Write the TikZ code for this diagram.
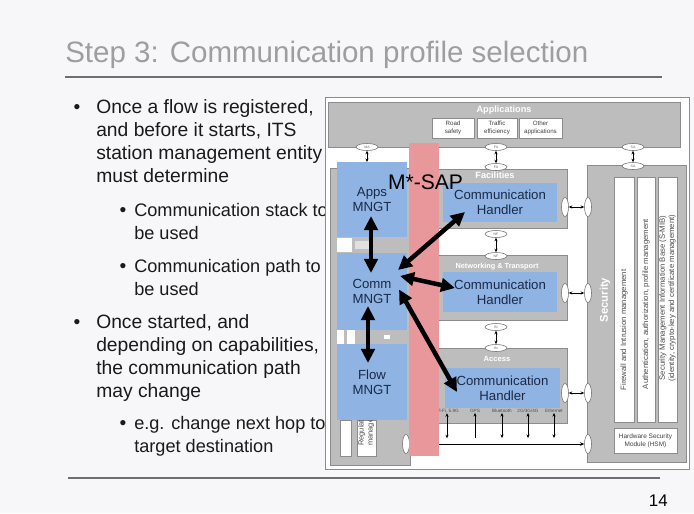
\documentclass[tikz,border=0pt]{standalone}
\usepackage{fontspec}
\setmainfont{Liberation Sans}
\usepackage{tikz}
\usetikzlibrary{arrows.meta, shapes.geometric, calc}
\newcommand{\pxu}{0.025cm}
\definecolor{slidebg}{HTML}{F7F7F9}
\definecolor{titlegray}{HTML}{9E9E9E}
\definecolor{rulegray}{HTML}{6E6E6E}
\definecolor{bodytext}{HTML}{1A1A1A}
\definecolor{laygray}{HTML}{BDBDBD}
\definecolor{laydraw}{HTML}{8C8C8C}
\definecolor{mngtblue}{HTML}{8FB3E2}
\definecolor{mngttext}{HTML}{1B2A47}
\definecolor{sappink}{HTML}{E8979B}

\begin{document}
\begin{tikzpicture}[x=\pxu, y=-\pxu,
  sz/.style 2 args={minimum width=#1*\pxu, minimum height=#2*\pxu},
  laybox/.style={rectangle, draw=laydraw, fill=laygray, inner sep=0pt, outer sep=0pt},
  laytitle/.style={text=white, font=\bfseries\fontsize{6.5}{7.5}\selectfont, inner sep=0pt},
  appbox/.style={rectangle, draw=laydraw, fill=white, inner sep=0pt, align=center, font=\fontsize{4.4}{5.4}\selectfont, text=black!75},
  sap/.style={ellipse, draw=black!55, fill=white, inner sep=0pt, minimum width=22*\pxu, minimum height=7*\pxu, font=\fontsize{2.5}{3}\selectfont, text=black!60},
  vsap/.style={sap, minimum width=7*\pxu, minimum height=19*\pxu},
  mngt/.style={rectangle, fill=mngtblue, inner sep=0pt, outer sep=0pt, align=center, text=mngttext, font=\fontsize{9.4}{10.6}\selectfont},
  stripbox/.style={rectangle, draw=laydraw, fill=white, inner sep=0pt},
  striptext/.style={rotate=90, align=center, inner sep=0pt, font=\fontsize{5.5}{6.6}\selectfont, text=black!70},
  bigarrow/.style={{Triangle[length=10pt,width=9.5pt]}-{Triangle[length=10pt,width=9.5pt]}, line width=3.2pt},
  sarrow/.style={{Stealth[length=2.5pt,width=2.2pt]}-{Stealth[length=2.5pt,width=2.2pt]}, line width=0.5pt},
  bulletmark/.style={anchor=base, inner sep=0pt, text=bodytext, font=\fontsize{13.7}{16.3}\selectfont},
  body/.style={anchor=north west, inner sep=0pt, align=left, text=bodytext, font=\fontsize{13.7}{16.3}\selectfont},
  subbody/.style={body, font=\fontsize{12.9}{16.3}\selectfont}
]

% ===== Slide =====
\fill[slidebg] (0,0) rectangle (694,513);
\useasboundingbox (0,0) rectangle (694,513);

\node[anchor=base west, inner sep=0pt, text=titlegray, font=\fontsize{21}{25}\selectfont] (title) at (65,62) {Step 3: Communication profile selection};
\draw[rulegray, line width=1.3pt] (65,77) -- (662,77);
\draw[rulegray, line width=1.3pt] (68,478) -- (660,478);
\node[anchor=base east, inner sep=0pt, font=\fontsize{12}{14}\selectfont] (pageno) at (668,506) {14};

% ===== Bullets =====
\node[bulletmark] (bu1) at (77,113) {\textbullet};
\node[body] (txt1) at (96,99) {Once a flow is registered,\\and before it starts, ITS\\station management entity\\must determine};
\node[bulletmark] (bu2) at (123,216) {\textbullet};
\node[subbody] (txt2) at (134,203) {Communication stack to\\be used};
\node[bulletmark] (bu3) at (123,272) {\textbullet};
\node[subbody] (txt3) at (134,259) {Communication path to\\be used};
\node[bulletmark] (bu4) at (77,328) {\textbullet};
\node[body] (txt4) at (96,314) {Once started, and\\depending on capabilities,\\the communication path\\may change};
\node[bulletmark] (bu5) at (123,429) {\textbullet};
\node[subbody] (txt5) at (134,416) {e.g. change next hop to\\target destination};

% ===== Architecture figure =====
\node[rectangle, draw=black!45, line width=0.4pt, fill=white, sz={364}{372}, inner sep=0pt] (frame) at (507,283) {};

% applications layer
\node[laybox, sz={352}{45}] (applay) at (504,124.5) {};
\node[laytitle] (applayt) at (504,110) {Applications};
\node[appbox, sz={42}{20}] (road) at (453,128) {Road\\safety};
\node[appbox, sz={40}{20}] (traffic) at (497,128) {Traffic\\efficiency};
\node[appbox, sz={43}{20}] (other) at (540.5,128) {Other\\applications};

% management column, layers, security
\node[laybox, sz={80}{297}] (mgmtcol) at (370,316.5) {};
\node[laybox, sz={155}{59}] (facil) at (489.5,198.5) {};
\node[laybox, sz={155}{65}] (nettr) at (489.5,287.5) {};
\node[laybox, sz={155}{75}] (access) at (489.5,385.5) {};
\node[laybox, sz={99}{297}] (secur) at (636.5,313.5) {};

\node[laytitle] (facilt) at (495,175) {Facilities};
\node[laytitle, font=\bfseries\fontsize{5.2}{6}\selectfont] (nettrt) at (497,267) {Networking \& Transport};
\node[laytitle, font=\bfseries\fontsize{5.4}{6}\selectfont] (accesst) at (497,359) {Access};
\node[laytitle, rotate=90, font=\bfseries\fontsize{8}{9}\selectfont] (securt) at (605,300) {Security};

\node[stripbox, sz={20}{245}] (fw) at (624,299.5) {};
\node[stripbox, sz={18}{245}] (auth) at (646,299.5) {};
\node[stripbox, sz={19}{245}] (smib) at (667.5,299.5) {};
\node[striptext] (fwt) at (624,330) {Firewall and Intrusion management};
\node[striptext] (autht) at (646,304) {Authentication, authorization, profile management};
\node[striptext] (smibt) at (667.5,298) {Security Management Information Base (S-MIB)\\(identity, crypto-key and certificate management)};
\node[stripbox, sz={63}{25}, align=center, font=\fontsize{4.6}{5.6}\selectfont, text=black!75] (hsm) at (645.5,440.5) {Hardware Security\\Module (HSM)};

% bits of the management column
\fill[white] (337,238) rectangle (352,252);
\fill[black!12] (355,241) rectangle (370,249);
\fill[white] (337,330) rectangle (344,344);
\fill[white] (347,330) rectangle (355,344);
\fill[white] (384,335) rectangle (390,339);
\node[stripbox, sz={11}{36}] (regl) at (345.5,438) {};
\node[stripbox, sz={19}{36}] (regr) at (366.5,438) {};
\node[striptext, anchor=north west, align=left, font=\fontsize{5.3}{6.4}\selectfont] (regt) at (358,446) {Regulatory\\management};

% access technologies
\node[inner sep=0pt, font=\fontsize{3.3}{4}\selectfont, text=black!70] (lw) at (447,411) {Wi-Fi, 5.9G};
\node[inner sep=0pt, font=\fontsize{3.3}{4}\selectfont, text=black!70] (lg) at (475,411) {GPS};
\node[inner sep=0pt, font=\fontsize{3.3}{4}\selectfont, text=black!70] (lb) at (502,411) {Bluetooth};
\node[inner sep=0pt, font=\fontsize{3.3}{4}\selectfont, text=black!70] (lc) at (528,411) {2G/3G/4G};
\node[inner sep=0pt, font=\fontsize{3.3}{4}\selectfont, text=black!70] (le) at (554,411) {Ethernet};
\foreach \n in {lw,lb,lc,le}{\draw[sarrow] (\n.south) -- ++(0,25);}
\draw[{Stealth[length=2.5pt,width=2.2pt]}-, line width=0.5pt] (lg.south) -- ++(0,25);

% service access points
\node[sap] (ma) at (367,147) {MA};
\node[sap] (fa1) at (496,147) {FA};
\node[sap] (fa2) at (496,167) {FA};
\node[sap] (sa1) at (633,147) {SA};
\node[sap] (sa2) at (633,166) {SA};
\node[sap] (nf1) at (496,234) {NF};
\node[sap] (nf2) at (496,256) {NF};
\node[sap] (in1) at (496,327) {IN};
\node[sap] (in2) at (496,348) {IN};
\node[vsap] (fs) at (565,207) {};
\node[vsap] (sf) at (588,207) {};
\node[vsap] (ns) at (565,293) {};
\node[vsap] (sn) at (588,293) {};
\node[vsap] (is) at (565,393) {};
\node[vsap] (si) at (588,393) {};
\node[vsap] (ms) at (406,444) {};
\node[vsap] (sm) at (588,444) {};

\draw[sarrow] (fa1) -- (fa2);
\draw[sarrow] (sa1) -- (sa2);
\draw[sarrow] (nf1) -- (nf2);
\draw[sarrow] (in1) -- (in2);
\draw[sarrow] (fs) -- (sf);
\draw[sarrow] (ns) -- (sn);
\draw[sarrow] (is) -- (si);
\draw[-{Stealth[length=3pt,width=2.5pt]}, line width=0.5pt] (ms) -- (sm);

% M*-SAP band
\node[rectangle, fill=sappink, sz={30}{313}, inner sep=0pt] (msapband) at (424,299.5) {};

% ===== Management entities and handlers =====
\node[mngt, sz={70}{75}] (appsm) at (372,199.5) {Apps\\MNGT};
\node[mngt, sz={70}{77}] (commm) at (372,291.5) {Comm\\MNGT};
\node[mngt, sz={70}{76}] (flowm) at (372,382) {Flow\\MNGT};
\node[mngt, sz={114}{39}] (ch1) at (500,202.5) {Communication\\Handler};
\node[mngt, sz={114}{40}] (ch2) at (500,292) {Communication\\Handler};
\node[mngt, sz={115}{40}] (ch3) at (502.5,388) {Communication\\Handler};
\draw[sarrow] (ma) -- (ma |- appsm.north);

\node[inner sep=0pt, font=\fontsize{15}{17}\selectfont] (msap) at (425.5,182) {M*-SAP};

% ===== Flow of control =====
\draw[bigarrow] ($(appsm.south)+(-1,-21)$) -- ($(commm.north)+(-1,20)$);
\draw[bigarrow] ($(commm.south)+(-4,-24)$) -- ($(flowm.north)+(-4,19)$);
\draw[bigarrow] ($(commm.north east)+(-9,17)$) -- ($(ch1.south west)+(22,-10)$);
\draw[bigarrow] ($(commm.north east)+(-7,23)$) -- ($(ch2.west)+(12,-4)$);
\draw[bigarrow] ($(commm.east)+(-8,-2)$) -- ($(ch3.south west)+(12,-16)$);

\end{tikzpicture}
\end{document}
